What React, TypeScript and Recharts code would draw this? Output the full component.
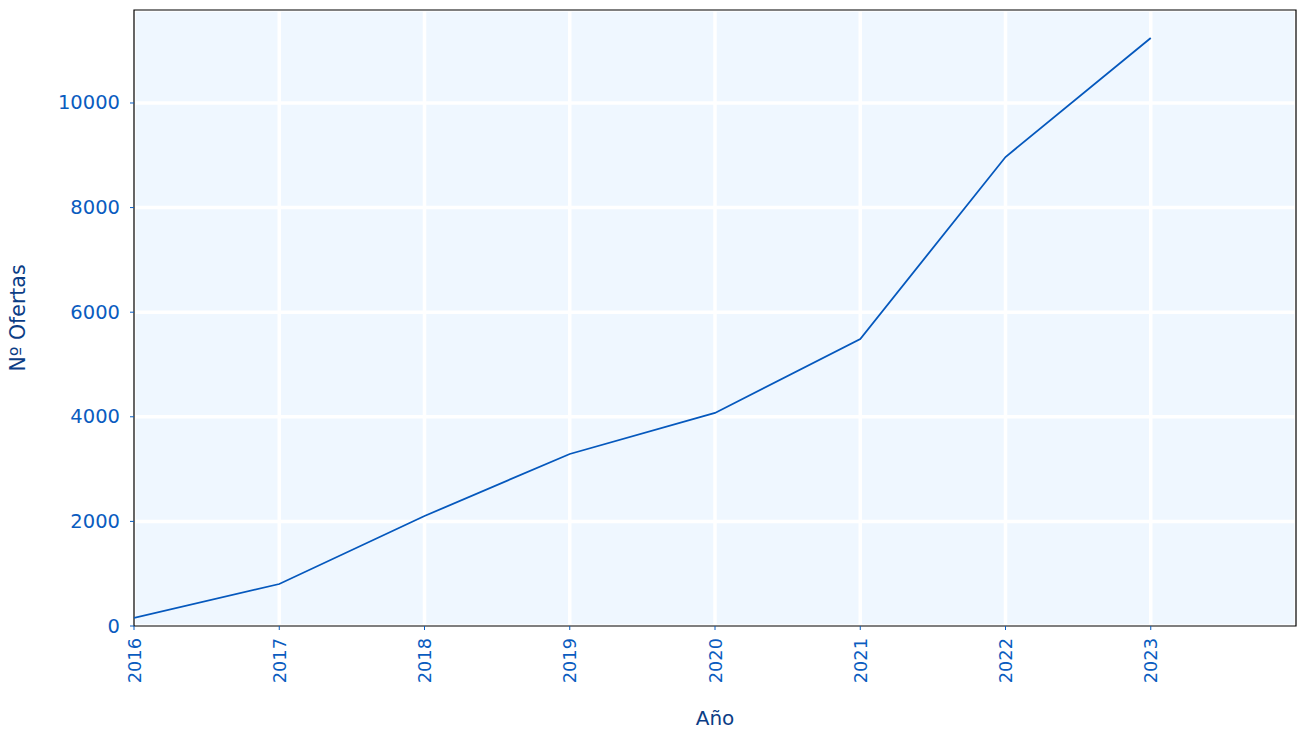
import React from 'react';
import { LineChart, Line, XAxis, YAxis, CartesianGrid, ReferenceArea, Label } from 'recharts';

const years = [2016, 2017, 2018, 2019, 2020, 2021, 2022, 2023];
const ofertas = [153, 803, 2103, 3289, 4073, 5488, 8967, 11243];
const xTicks = [2016, 2017, 2018, 2019, 2020, 2021, 2022, 2023];
const yTicks = [0, 2000, 4000, 6000, 8000, 10000];
const xDomain = [2016, 2024];
const yDomain = [0, 11778];

const data = years.map((y, i) => ({ year: y, value: ofertas[i] }));

const FONT = 'DejaVu Sans';
const TICK_COLOR = '#0a5cbf';
const LABEL_COLOR = '#0b3d85';
const LINE_COLOR = '#0558bd';

const XTick = (props: any) => {
  const { x, y, payload } = props;
  const ty = y + 4;
  return (
    <g>
      <line x1={x} y1={y - 8} x2={x} y2={y - 4} stroke={TICK_COLOR} strokeWidth={1} />
      <text
        x={x}
        y={ty}
        transform={`rotate(-90, ${x}, ${ty})`}
        textAnchor="end"
        dominantBaseline="central"
        fill={TICK_COLOR}
        fontFamily={FONT}
        fontSize={17.8}
      >
        {payload.value}
      </text>
    </g>
  );
};

const YTick = (props: any) => {
  const { x, y, payload } = props;
  return (
    <g>
      <line x1={x + 4} y1={y} x2={x + 8} y2={y} stroke={TICK_COLOR} strokeWidth={1} />
      <text
        x={x - 6}
        y={y}
        textAnchor="end"
        dominantBaseline="central"
        fill={TICK_COLOR}
        fontFamily={FONT}
        fontSize={19.5}
      >
        {payload.value}
      </text>
    </g>
  );
};

export default function App() {
  return (
    <div style={{ position: 'absolute', left: 0, top: 0 }}>
      <LineChart
        width={1306}
        height={739}
        data={data}
        margin={{ top: 10, right: 10, bottom: 10, left: 10 }}
      >
        <CartesianGrid stroke="#ffffff" strokeWidth={3.5} fill="#eff7ff" horizontal vertical />
        <XAxis
          dataKey="year"
          type="number"
          domain={xDomain}
          ticks={xTicks}
          allowDataOverflow
          axisLine={false}
          tickLine={false}
          height={103}
          tick={<XTick />}
          interval={0}
        >
          <Label
            content={() => (
              <text x={715} y={718} textAnchor="middle" dominantBaseline="central" fill={LABEL_COLOR} fontFamily={FONT} fontSize={20}>
                Año
              </text>
            )}
          />
        </XAxis>
        <YAxis
          type="number"
          domain={yDomain}
          ticks={yTicks}
          allowDataOverflow
          axisLine={false}
          tickLine={false}
          width={124}
          tick={<YTick />}
          interval={0}
        >
          <Label
            content={() => (
              <text x={18} y={318} transform="rotate(-90, 18, 318)" textAnchor="middle" dominantBaseline="central" fill={LABEL_COLOR} fontFamily={FONT} fontSize={20.5}>
                Nº Ofertas
              </text>
            )}
          />
        </YAxis>
        <ReferenceArea x1={2016} x2={2024} y1={0} y2={11778} fill="none" stroke="#000000" strokeWidth={1.2} fillOpacity={0} strokeOpacity={1} ifOverflow="extendDomain" />
        <Line
          type="linear"
          dataKey="value"
          stroke={LINE_COLOR}
          strokeWidth={1.8}
          dot={false}
          isAnimationActive={false}
        />
      </LineChart>
    </div>
  );
}
